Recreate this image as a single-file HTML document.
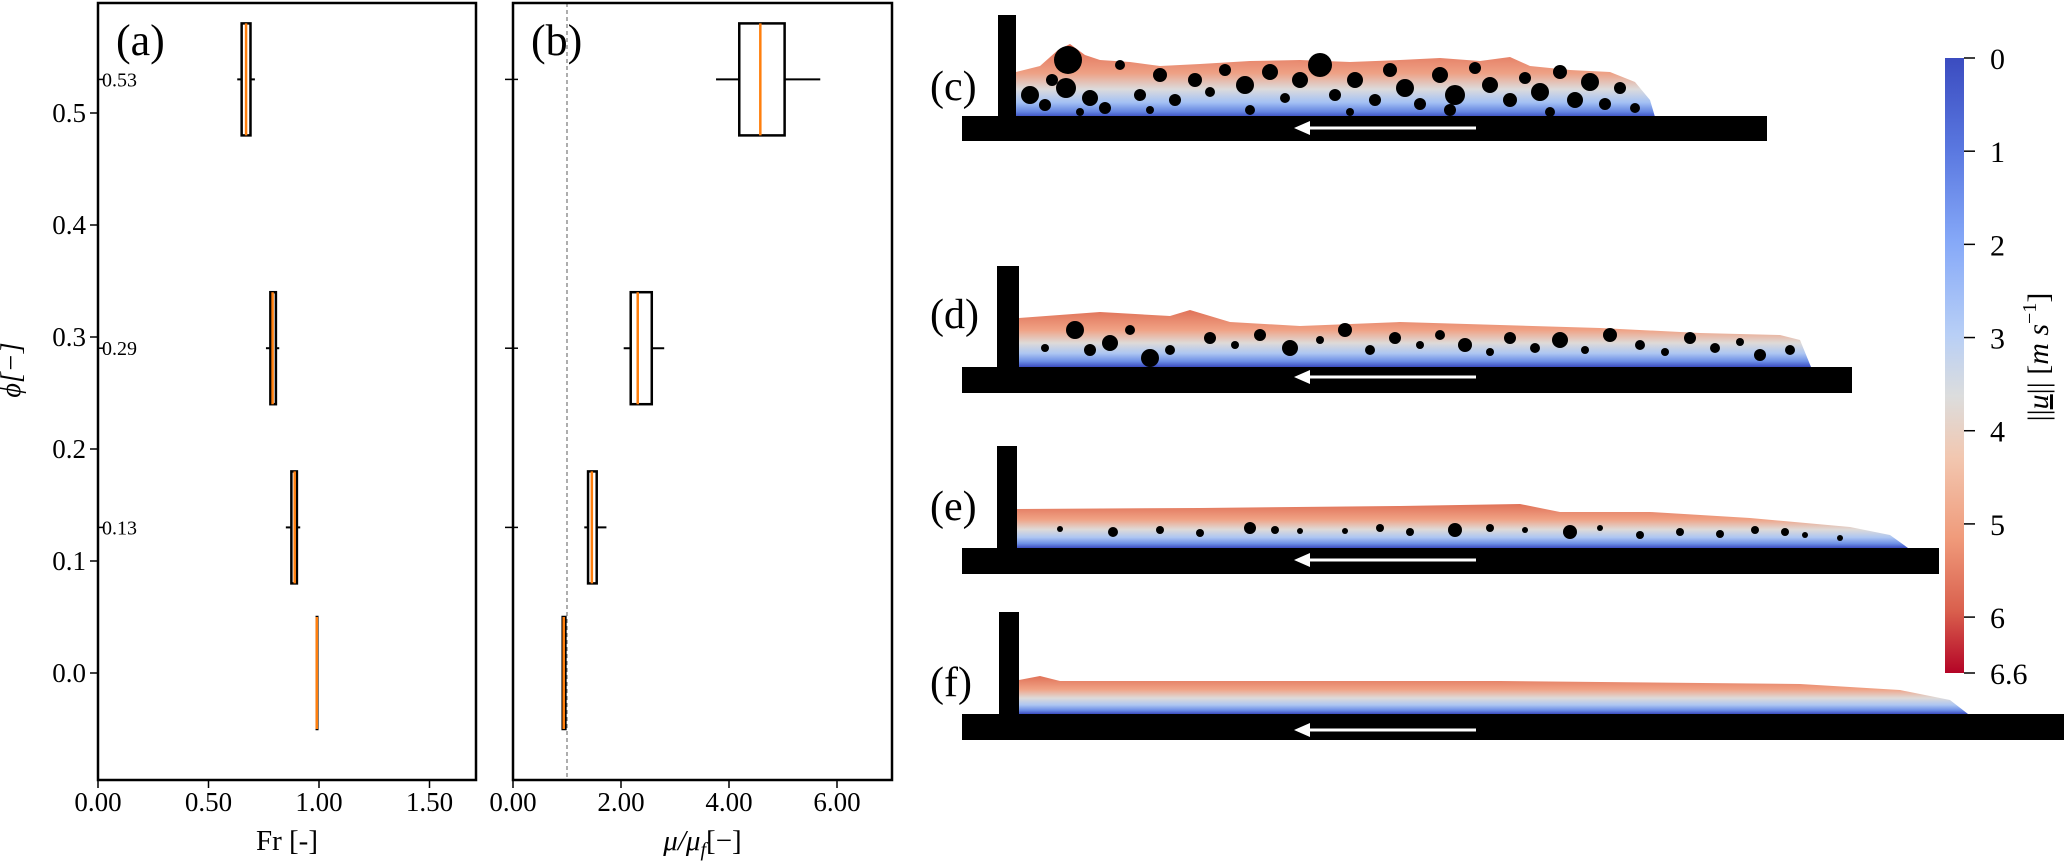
<!DOCTYPE html>
<html><head><meta charset="utf-8"><style>
html,body{margin:0;padding:0;background:#fff;}
svg{display:block;font-family:"Liberation Serif",serif;}
</style></head><body>
<svg id="fig" width="2067" height="861" viewBox="0 0 2067 861" xmlns="http://www.w3.org/2000/svg">
<defs>
<linearGradient id="fluid" x1="0" y1="0" x2="0" y2="1">
<stop offset="0" stop-color="#e07258"/><stop offset="0.35" stop-color="#f0a285"/><stop offset="0.58" stop-color="#dedad8"/><stop offset="0.76" stop-color="#adc6f2"/><stop offset="0.9" stop-color="#6d8fe6"/><stop offset="1" stop-color="#3b4cc0"/>
</linearGradient>
<linearGradient id="fluidc" x1="0" y1="0" x2="0" y2="1">
<stop offset="0" stop-color="#e06a52"/><stop offset="0.4" stop-color="#eea185"/><stop offset="0.62" stop-color="#dcdbdc"/><stop offset="0.8" stop-color="#a4c1f4"/><stop offset="0.93" stop-color="#6384e0"/><stop offset="1" stop-color="#3b4cc0"/>
</linearGradient>
<linearGradient id="cbar" x1="0" y1="0" x2="0" y2="1">
<stop offset="0" stop-color="#3b4cc0"/><stop offset="0.15" stop-color="#5a78e0"/><stop offset="0.3" stop-color="#86a9f8"/><stop offset="0.45" stop-color="#b8cff6"/><stop offset="0.55" stop-color="#dcdddd"/><stop offset="0.65" stop-color="#f2c7b0"/><stop offset="0.78" stop-color="#f09b7b"/><stop offset="0.9" stop-color="#d95f4d"/><stop offset="1" stop-color="#b40426"/>
</linearGradient>
</defs>
<g id="panelA"></g>
<g id="panelB"></g>
<text x="20" y="370" font-size="28" font-style="italic" transform="rotate(-90 20 370)" text-anchor="middle">ϕ[−]</text>

<g>
<path fill="url(#fluidc)" d="M1016 117 L1016 72 L1040 66 L1058 50 L1070 44 L1085 55 L1100 60 L1130 62 L1160 66 L1200 64 L1250 61 L1300 60 L1350 62 L1400 60 L1440 58 L1480 61 L1510 57 L1530 66 L1570 70 L1610 72 L1635 82 L1650 100 L1655 117 Z"/>
<g fill="#000" id="bubC"></g>
<rect x="998" y="15" width="18" height="102" fill="#000"/>
<rect x="962" y="116" width="805" height="25" fill="#000"/>
<path d="M1476 128 L1300 128" stroke="#fff" stroke-width="3"/><path d="M1294 128 L1310 121 L1310 135 Z" fill="#fff"/>
<text x="930" y="100" font-size="42">(c)</text>
</g>
<g>
<path fill="url(#fluid)" d="M1019 367 L1019 318 L1100 312 L1170 316 L1190 310 L1230 322 L1300 326 L1400 322 L1500 325 L1600 328 L1700 333 L1780 335 L1800 340 L1811 367 Z"/>
<g fill="#000" id="bubD"></g>
<rect x="997" y="266" width="22" height="101" fill="#000"/>
<rect x="962" y="367" width="890" height="26" fill="#000"/>
<path d="M1476 377 L1300 377" stroke="#fff" stroke-width="3"/><path d="M1294 377 L1310 370 L1310 384 Z" fill="#fff"/>
<text x="930" y="328" font-size="42">(d)</text>
</g>
<g>
<path fill="url(#fluid)" d="M1017 548 L1017 509 L1200 508 L1400 506 L1520 504 L1560 512 L1650 512 L1750 518 L1850 527 L1890 535 L1908 548 Z"/>
<g fill="#000" id="bubE"></g>
<rect x="997" y="446" width="20" height="102" fill="#000"/>
<rect x="962" y="548" width="977" height="26" fill="#000"/>
<path d="M1476 560 L1300 560" stroke="#fff" stroke-width="3"/><path d="M1294 560 L1310 553 L1310 567 Z" fill="#fff"/>
<text x="930" y="520" font-size="42">(e)</text>
</g>
<g>
<path fill="url(#fluid)" d="M1019 714 L1019 680 L1040 676 L1060 681 L1500 681 L1800 684 L1900 690 L1950 700 L1968 714 Z"/>
<rect x="999" y="612" width="20" height="103" fill="#000"/>
<rect x="962" y="714" width="1102" height="26" fill="#000"/>
<path d="M1476 730 L1300 730" stroke="#fff" stroke-width="3"/><path d="M1294 730 L1310 723 L1310 737 Z" fill="#fff"/>
<text x="930" y="696" font-size="42">(f)</text>
</g>
<g>
<rect x="1945" y="58" width="19" height="615" fill="url(#cbar)"/>
<g id="cbTicks" font-size="30"></g>
<text x="2048" y="357" font-size="30" transform="rotate(-90 2048 357)" text-anchor="middle">||<tspan font-style="italic" text-decoration="underline">u</tspan>|| [<tspan font-style="italic">m s</tspan><tspan font-size="20" dy="-12">−1</tspan><tspan dy="12">]</tspan></text>
</g>
</svg>
<script>
// Panel (a) data
const phiCats = [0.53, 0.29, 0.13, 0.0];
const frMed = [0.67, 0.79, 0.89, 0.99];
const frQ1 = [0.65, 0.78, 0.875, 0.99];
const frQ3 = [0.69, 0.805, 0.90, 0.99];
const frWlo = [0.63, 0.76, 0.85, 0.99];
const frWhi = [0.71, 0.82, 0.915, 0.99];
const frTicks = [0, 0.5, 1.0, 1.5];
const frTickLabels = ["0.00", "0.50", "1.00", "1.50"];
// Panel (b) data
const muMed = [4.58, 2.31, 1.46, 0.94];
const muQ1 = [4.19, 2.18, 1.39, 0.92];
const muQ3 = [5.03, 2.57, 1.55, 0.97];
const muWlo = [3.76, 2.05, 1.32, 0.92];
const muWhi = [5.69, 2.80, 1.73, 0.97];
const muTicks = [0, 2, 4, 6];
const muTickLabels = ["0.00", "2.00", "4.00", "6.00"];
const phiTicks = [0.0, 0.1, 0.2, 0.3, 0.4, 0.5];
const phiTickLabels = ["0.0", "0.1", "0.2", "0.3", "0.4", "0.5"];
const phiAnnot = ["0.53", "0.29", "0.13"];
const cbTicks = [0, 1, 2, 3, 4, 5, 6, 6.6];
const cbLabels = ["0", "1", "2", "3", "4", "5", "6", "6.6"];

(function () {
const NS = "http://www.w3.org/2000/svg";
function mk(tag, attrs, parent) { const e = document.createElementNS(NS, tag); for (const k in attrs) e.setAttribute(k, attrs[k]); parent.appendChild(e); return e; }
const yPhi = p => 673 - 1120 * p;
const yTop = 3, yBot = 780;

function panel(g, x0, x1, xScale, ticks, tickLabels, med, q1, q3, wlo, whi, label, xlabel, showY) {
  const fr = mk('rect', {x: x0, y: yTop, width: x1 - x0, height: yBot - yTop, fill: 'none', stroke: '#000', 'stroke-width': 2.5}, g);
  
  
  ticks.forEach((t, i) => {
    const x = xScale(t);
    mk('line', {x1: x, x2: x, y1: yBot, y2: yBot + 8, stroke: '#000', 'stroke-width': 1.5}, g);
    const tl = mk('text', {x: x, y: 811, 'font-size': 27, 'text-anchor': 'middle'}, g);
    tl.textContent = tickLabels[i];
    
    
  });
  phiTicks.forEach((p, i) => {
    const y = yPhi(p);
    if (showY) {
      mk('line', {x1: x0 - 8, x2: x0, y1: y, y2: y, stroke: '#000', 'stroke-width': 1.5}, g);
      const tl = mk('text', {x: x0 - 12, y: y + 9, 'font-size': 27, 'text-anchor': 'end'}, g);
      tl.textContent = phiTickLabels[i];
      
      
    }
  });
  phiCats.slice(0, 3).forEach((p, i) => {
    const y = yPhi(p);
    mk('line', {x1: x0 - (showY ? 0 : 8), x2: x0 + 5, y1: y, y2: y, stroke: '#000', 'stroke-width': 1.5}, g);
    if (showY) {
      const a = mk('text', {x: x0 + 4, y: y + 7, 'font-size': 20}, g);
      a.textContent = phiAnnot[i];
      
      
    }
  });
  phiCats.forEach((p, i) => {
    const y = yPhi(p);
    const bg = mk('g', {}, g);
    
    
    mk('line', {x1: xScale(wlo[i]), x2: xScale(whi[i]), y1: y, y2: y, stroke: '#000', 'stroke-width': 2}, bg);
    const xa = xScale(q1[i]), xb = xScale(q3[i]);
    mk('rect', {x: xa, y: y - 56, width: Math.max(xb - xa, 0.5), height: 112, fill: '#fff', stroke: '#000', 'stroke-width': 2.5}, bg);
    mk('line', {x1: xScale(med[i]), x2: xScale(med[i]), y1: y - 56, y2: y + 56, stroke: '#ff7f0e', 'stroke-width': 2.5}, bg);
  });
  const lb = mk('text', {x: x0 + 18, y: 55, 'font-size': 44}, g);
  lb.textContent = label;
  
  
  const xl = mk('text', {x: (x0 + x1) / 2, y: 850, 'font-size': 29, 'text-anchor': 'middle'}, g);
  xl.innerHTML = xlabel;
  
  
}
const gA = document.getElementById('panelA');
panel(gA, 98, 476, v => 98 + 221 * v, frTicks, frTickLabels, frMed, frQ1, frQ3, frWlo, frWhi, '(a)', 'Fr [-]', true);
const gB = document.getElementById('panelB');
const xMu = v => 513 + 54 * v;
const dl = mk('line', {x1: xMu(1), x2: xMu(1), y1: yTop, y2: yBot, stroke: '#777', 'stroke-width': 1.2, 'stroke-dasharray': '4 3'}, gB);


panel(gB, 513, 892, xMu, muTicks, muTickLabels, muMed, muQ1, muQ3, muWlo, muWhi, '(b)', '<tspan font-style="italic">μ/μ</tspan><tspan font-style="italic" font-size="20" dy="6">f</tspan><tspan dy="-6">[−]</tspan>', false);

const cbg = document.getElementById('cbTicks');
cbTicks.forEach((v, i) => {
  const y = 58 + v * (615 / 6.6);
  mk('line', {x1: 1964, x2: 1975, y1: y, y2: y, stroke: '#000', 'stroke-width': 1.5}, cbg);
  const t = mk('text', {x: 1990, y: y + 11}, cbg);
  t.textContent = cbLabels[i];
  
  
});

const bubC = [[1030,95,9],[1045,105,6],[1068,60,14],[1066,88,10],[1052,80,6],[1090,98,8],[1105,108,6],[1120,65,5],[1140,95,6],[1160,75,7],[1175,100,6],[1195,80,7],[1210,92,5],[1225,70,6],[1245,85,9],[1270,72,8],[1285,98,5],[1300,80,8],[1320,65,12],[1335,95,6],[1355,80,8],[1375,100,6],[1390,70,7],[1405,88,9],[1420,104,6],[1440,75,8],[1455,95,10],[1475,68,6],[1490,85,8],[1510,100,7],[1525,78,6],[1540,92,9],[1560,72,7],[1575,100,8],[1590,82,9],[1605,104,6],[1620,88,6],[1635,108,5],[1150,110,4],[1250,110,5],[1350,112,4],[1450,110,6],[1550,112,5],[1080,112,4]];
const bubD = [[1045,348,4],[1075,330,9],[1090,350,6],[1110,343,8],[1130,330,5],[1150,358,9],[1170,350,5],[1210,338,6],[1235,345,4],[1260,335,6],[1290,348,8],[1320,340,4],[1345,330,7],[1370,350,5],[1395,338,6],[1420,345,4],[1440,335,5],[1465,345,7],[1490,352,4],[1510,338,6],[1535,348,5],[1560,340,8],[1585,350,4],[1610,335,7],[1640,345,5],[1665,352,4],[1690,338,6],[1715,348,5],[1740,342,4],[1760,355,6],[1790,350,5]];
const bubE = [[1060,529,3],[1113,532,5],[1160,530,4],[1200,533,4],[1250,528,6],[1275,530,4],[1300,531,3],[1345,531,3],[1380,528,4],[1410,532,4],[1455,530,7],[1490,528,4],[1525,530,3],[1570,532,7],[1600,528,3],[1640,535,4],[1680,532,4],[1720,534,4],[1755,530,4],[1785,532,4],[1805,535,3],[1840,538,3]];
[[bubC, 'bubC'], [bubD, 'bubD'], [bubE, 'bubE']].forEach(([arr, id]) => {
  const g = document.getElementById(id);
  arr.forEach(b => mk('circle', {cx: b[0], cy: b[1], r: b[2]}, g));
});
})();
</script>
</body></html>
